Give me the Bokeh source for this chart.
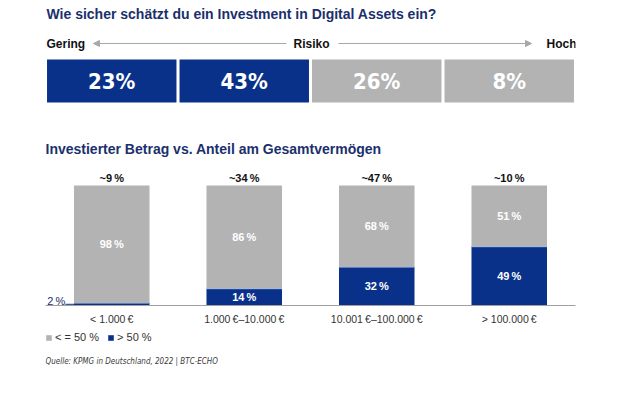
from bokeh.plotting import figure
from bokeh.models import (ColumnDataSource, FactorRange, Range1d, Label, Arrow, NormalHead,
                          Legend, LegendItem)
from bokeh.layouts import column
from bokeh.transform import dodge
from bokeh.embed import file_html
from bokeh.resources import INLINE
from bokeh.core.properties import value

# ---------------- data ----------------
title_risk = "Wie sicher schätzt du ein Investment in Digital Assets ein?"
risk_levels = ["Stufe 1", "Stufe 2", "Stufe 3", "Stufe 4"]   # Gering -> Hoch
risk_values = [23, 43, 26, 8]

title_amount = "Investierter Betrag vs. Anteil am Gesamtvermögen"
amount_cats = ["< 1.000\u2009€", "1.000\u2009€–10.000\u2009€", "10.001\u2009€–100.000\u2009€", "> 100.000\u2009€"]
share_gt50 = [2, 14, 32, 49]     # > 50 % of total wealth
share_le50 = [98, 86, 68, 51]    # <= 50 % of total wealth
respondent_share = [9, 34, 47, 10]  # ~ share of respondents per amount bucket
legend_labels = ["< = 50 %", "> 50 %"]
source_text = "Quelle: KPMG in Deutschland, 2022 | BTC-ECHO"

# ---------------- styles ----------------
BLUE = "#0a318a"
GRAY = "#b3b3b3"
NAVY = "#1b2f6d"
SEP = "#9db8dc"
ARROW_GRAY = "#a8a8a8"
COND = "Noto Sans ExtraCondensed, DejaVu Sans Condensed, Liberation Sans"
SANS = "Liberation Sans, Arimo, Arial, DejaVu Sans, sans-serif"
PCT = "\u2009%"

# ================= Figure 1: risk assessment =================
H1 = 113
p1 = figure(width=620, height=H1, output_backend="svg", toolbar_location=None, title=None,
            x_range=FactorRange(*risk_levels), y_range=Range1d(-(H1 - 102) / 43, 102 / 43),
            min_border_left=44, min_border_right=45, min_border_top=0, min_border_bottom=0,
            x_axis_location=None, y_axis_location=None)
p1.grid.visible = False
p1.outline_line_color = None

src1 = ColumnDataSource(dict(
    x=risk_levels,
    v=risk_values,
    color=[BLUE if i < 2 else GRAY for i in range(len(risk_levels))],
    label=[f"{v}%" for v in risk_values],
    top=[1] * len(risk_levels),
    mid=[0.5] * len(risk_levels),
))
p1.vbar(x="x", top="top", bottom=0, width=0.977, color="color", source=src1, line_color=None)
p1.text(x="x", y="mid", text="label", source=src1, text_align="center", text_baseline="middle",
        text_color="white", text_font=value(COND), text_font_style="bold",
        text_font_size="22px")

p1.add_layout(Label(x=1, y=H1 - 13, x_units="screen", y_units="screen", text=title_risk,
                    text_font=SANS, text_font_style="bold", text_font_size="14px",
                    text_color=NAVY, text_baseline="middle"))
for txt, x, align in [("Gering", 1, "left"), ("Risiko", 266, "center"), ("Hoch", 531, "right")]:
    p1.add_layout(Label(x=x, y=H1 - 43, x_units="screen", y_units="screen", text=txt,
                        text_font=SANS, text_font_style="bold", text_font_size="12px",
                        text_color="#111111", text_align=align, text_baseline="middle"))
for xs, xe in [(241, 48), (293, 486)]:
    p1.add_layout(Arrow(x_start=xs, y_start=H1 - 43, x_end=xe, y_end=H1 - 43,
                        start_units="screen", end_units="screen",
                        line_color=ARROW_GRAY, line_width=1,
                        end=NormalHead(size=6, fill_color=ARROW_GRAY, line_color=ARROW_GRAY)))

# ================= Figure 2: invested amount vs. share =================
FRAME_H = 192
BOTTOM2 = 25
H2 = FRAME_H + BOTTOM2
p2 = figure(width=620, height=H2, output_backend="svg", toolbar_location=None, title=None,
            x_range=FactorRange(*amount_cats), y_range=Range1d(0, FRAME_H / 1.2),
            min_border_left=45, min_border_right=44, min_border_top=0,
            min_border_bottom=BOTTOM2, y_axis_location=None)
p2.grid.visible = False
p2.outline_line_color = None
ax = p2.xaxis[0]
ax.axis_line_color = "#a0a0a0"
ax.major_tick_line_color = None
ax.minor_tick_line_color = None
ax.major_label_standoff = 1
ax.major_label_text_font = SANS
ax.major_label_text_font_size = "10.5px"
ax.major_label_text_color = "#333333"

src2 = ColumnDataSource(dict(
    cat=amount_cats,
    gt50=share_gt50,
    le50=share_le50,
))
rs = p2.vbar_stack(["gt50", "le50"], x="cat", width=0.57, color=[BLUE, GRAY],
                   line_color=None, source=src2)
# thin light separator where the two segments meet
p2.segment(x0=dodge("cat", -0.285, range=p2.x_range), x1=dodge("cat", 0.285, range=p2.x_range),
           y0="gt50", y1="gt50", source=src2, line_color=SEP, line_width=1)

# labels inside bars
gray_lbl = ColumnDataSource(dict(cat=amount_cats,
                                 y=[g + l / 2 for g, l in zip(share_gt50, share_le50)],
                                 t=[f"{l}{PCT}" for l in share_le50]))
p2.text(x="cat", y="y", text="t", source=gray_lbl, text_align="center", text_baseline="middle",
        text_color="white", text_font=value(SANS), text_font_style="bold", text_font_size="11px")
big = [i for i, g in enumerate(share_gt50) if g >= 5]
small = [i for i, g in enumerate(share_gt50) if g < 5]
blue_lbl = ColumnDataSource(dict(cat=[amount_cats[i] for i in big],
                                 y=[share_gt50[i] / 2 for i in big],
                                 t=[f"{share_gt50[i]}{PCT}" for i in big]))
p2.text(x="cat", y="y", text="t", source=blue_lbl, text_align="center", text_baseline="middle",
        text_color="white", text_font=value(SANS), text_font_style="bold", text_font_size="11px")
small_lbl = ColumnDataSource(dict(cat=[amount_cats[i] for i in small],
                                  y=[share_gt50[i] / 2 for i in small],
                                  t=[f"{share_gt50[i]}{PCT}" for i in small]))
p2.text(x=dodge("cat", -0.35, range=p2.x_range), y="y", text="t", source=small_lbl,
        text_align="right", text_baseline="middle", y_offset=-3,
        text_color=NAVY, text_font=value(SANS), text_font_size="11px")
p2.segment(x0=dodge("cat", -0.35, range=p2.x_range), x1=dodge("cat", -0.285, range=p2.x_range),
           y0="y", y1="y", source=small_lbl, line_color=NAVY, line_width=1)

# respondent shares above bars
top_lbl = ColumnDataSource(dict(cat=amount_cats,
                                y=[g + l for g, l in zip(share_gt50, share_le50)],
                                t=[f"~{v}{PCT}" for v in respondent_share]))
p2.text(x="cat", y="y", text="t", source=top_lbl, text_align="center", text_baseline="middle",
        y_offset=-8, text_color="#111111", text_font=value(SANS), text_font_style="bold",
        text_font_size="11px")

p2.add_layout(Label(x=0, y=FRAME_H - (148 - 113), x_units="screen", y_units="screen",
                    text=title_amount, text_font=SANS, text_font_style="bold",
                    text_font_size="14px", text_color=NAVY, text_baseline="middle"))

# ================= Figure 3: legend + source =================
H3 = 413 - H1 - H2
p3 = figure(width=620, height=H3, output_backend="svg", toolbar_location=None, title=None,
            x_range=Range1d(0, 1), y_range=Range1d(0, 1),
            min_border_left=45, min_border_right=0, min_border_top=0, min_border_bottom=0,
            x_axis_location=None, y_axis_location=None)
p3.grid.visible = False
p3.outline_line_color = None
# legend swatches (kept outside the visible range; only their legend glyphs show)
sw_gray = p3.rect(x=[-5], y=[-5], width=1, height=1, color=GRAY, line_color=None)
sw_blue = p3.rect(x=[-5], y=[-5], width=1, height=1, color=BLUE, line_color=None)
y_top3 = H1 + H2   # page y where fig 3 starts
legend = Legend(items=[LegendItem(label=legend_labels[0], renderers=[sw_gray]),
                       LegendItem(label=legend_labels[1], renderers=[sw_blue])],
                orientation="horizontal", location=(0, H3 - (337 - y_top3) - 6),
                glyph_width=7, glyph_height=7,
                label_text_font=SANS, label_text_font_size="11px", label_text_color="#333333",
                label_standoff=3, spacing=8, padding=0, margin=0, label_height=12,
                border_line_color=None, background_fill_alpha=0)
p3.add_layout(legend)
p3.add_layout(Label(x=0, y=H3 - (361 - y_top3), x_units="screen", y_units="screen",
                    text=source_text, text_font=COND, text_font_style="italic",
                    text_font_size="8px", text_color="#3a3a3a", text_baseline="middle"))

layout = column(p1, p2, p3, spacing=0)
open("out.html", "w").write(file_html(layout, INLINE))
